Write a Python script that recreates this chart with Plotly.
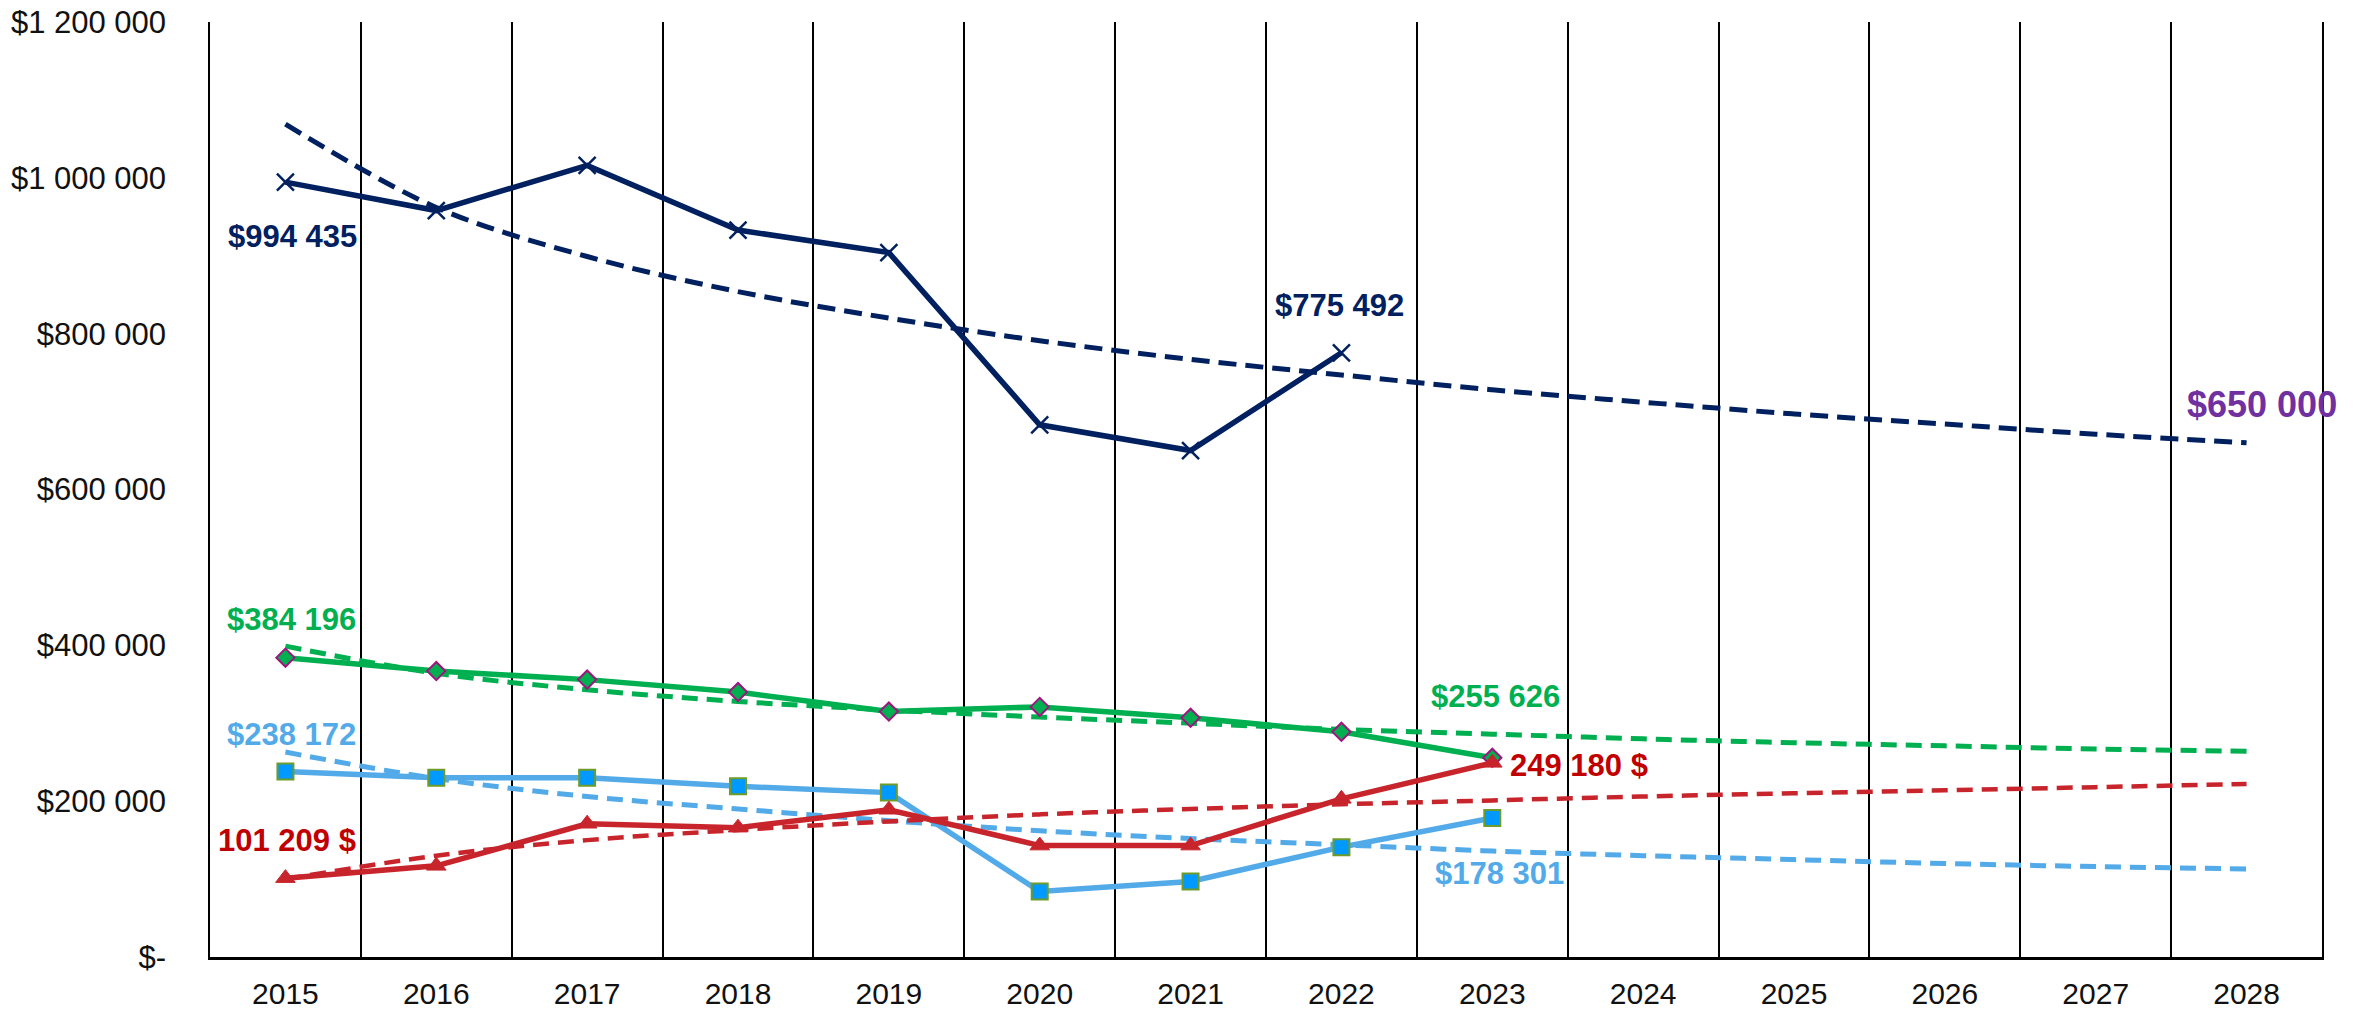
import plotly.graph_objects as go

# ---------------- data ----------------
years = ["2015", "2016", "2017", "2018", "2019", "2020", "2021",
         "2022", "2023", "2024", "2025", "2026", "2027", "2028"]

navy_actual = [994435, 958000, 1016000, 933000, 904000, 683000, 650000, 775492]
navy_trend = [1069000, 962000, 899000, 854000, 820000, 791000, 767000,
              747000, 728000, 712000, 697000, 684000, 671000, 660000]

green_actual = [384196, 367000, 356000, 340000, 315000, 321000, 307000, 289000, 255626]
green_trend = [399000, 364000, 343000, 328000, 317000, 308000, 300000,
               292000, 286000, 280000, 275000, 271000, 267000, 264000]

blue_actual = [238172, 230000, 230000, 219000, 211000, 84000, 97000, 141000, 178301]
blue_trend = [263000, 229000, 206000, 190000, 175000, 162000, 152000,
              144000, 136000, 130000, 125000, 120000, 116000, 113000]

red_actual = [101209, 117000, 171000, 166000, 189000, 143000, 143000, 203000, 249180]
red_trend = [100000, 130000, 150000, 163000, 174000, 183000, 190000,
             196000, 201000, 206000, 210000, 214000, 218000, 222000]

y_tickvals = [0, 200000, 400000, 600000, 800000, 1000000, 1200000]
y_ticktext = ["$-", "$200 000", "$400 000", "$600 000", "$800 000",
              "$1 000 000", "$1 200 000"]

target_label = "$650 000"

# ---------------- styles ----------------
NAVY = "#002060"
GREEN = "#00B050"
BLUE = "#52AAE8"
RED = "#C8242B"
RED_TXT = "#C00000"
PURPLE = "#7030A0"
FONT = "Liberation Sans, Arial, sans-serif"

fig = go.Figure()

# trend lines
for vals, col, w, dash in [(navy_trend, NAVY, 5, "18px,9px"), (green_trend, GREEN, 5, "16px,9px"),
                           (blue_trend, BLUE, 5, "16px,9px"), (red_trend, RED, 4.5, "16px,9px")]:
    fig.add_trace(go.Scatter(x=years, y=vals, mode="lines",
                             line=dict(color=col, width=w, dash=dash, shape="spline"),
                             hoverinfo="skip"))

# actual series
fig.add_trace(go.Scatter(x=years[:len(green_actual)], y=green_actual, mode="lines+markers",
                         line=dict(color=GREEN, width=5.5),
                         marker=dict(symbol="diamond", size=14, color=GREEN,
                                     line=dict(color="#A0147F", width=2))))
fig.add_trace(go.Scatter(x=years[:len(blue_actual)], y=blue_actual, mode="lines+markers",
                         line=dict(color=BLUE, width=5.5),
                         marker=dict(symbol="square", size=16, color="#0099FF",
                                     line=dict(color="#6E9B2A", width=2))))
fig.add_trace(go.Scatter(x=years[:len(red_actual)], y=red_actual, mode="lines+markers",
                         line=dict(color=RED, width=5.5),
                         marker=dict(symbol="triangle-up", size=17, color=RED,
                                     line=dict(color=RED, width=1))))
fig.add_trace(go.Scatter(x=years[:len(navy_actual)], y=navy_actual, mode="lines+markers",
                         line=dict(color=NAVY, width=5.5),
                         marker=dict(symbol="x-thin", size=17, color=NAVY,
                                     line=dict(color=NAVY, width=2.5))))


def money(v, suffix=False):
    s = f"{int(round(v)):,}".replace(",", " ")
    return f"{s} $" if suffix else f"${s}"


last = lambda arr: len(arr) - 1

labels = [
    (0, navy_actual[0], money(navy_actual[0]), NAVY, 7, -54, "center"),
    (last(navy_actual), navy_actual[-1], money(navy_actual[-1]), NAVY, -2, 47, "center"),
    (0, green_actual[0], money(green_actual[0]), GREEN, 6, 38, "center"),
    (last(green_actual), green_actual[-1], money(green_actual[-1]), GREEN, 3, 61, "center"),
    (0, blue_actual[0], money(blue_actual[0]), BLUE, 6, 37, "center"),
    (last(blue_actual), blue_actual[-1], money(blue_actual[-1]), BLUE, 7, -55, "center"),
    (0, red_actual[0], money(red_actual[0], True), RED_TXT, 2, 38, "center"),
    (last(red_actual), red_actual[-1], money(red_actual[-1], True), RED_TXT, 16, -3, "left"),
]
for xi, y, t, c, xs, ys, xa in labels:
    fig.add_annotation(x=xi, y=y, xref="x", yref="y", text="<b>" + t + "</b>",
                       showarrow=False, xshift=xs, yshift=ys,
                       xanchor=xa, yanchor="middle",
                       font=dict(family=FONT, size=31, color=c))

fig.add_annotation(x=last(navy_trend), y=navy_trend[-1], xref="x", yref="y",
                   text="<b>" + target_label + "</b>", showarrow=False,
                   xshift=15, yshift=38, xanchor="center", yanchor="middle",
                   font=dict(family=FONT, size=36, color=PURPLE))

fig.update_layout(
    width=2369, height=1013,
    margin=dict(l=210, r=47, t=22, b=56),
    paper_bgcolor="white", plot_bgcolor="white",
    showlegend=False,
    font=dict(family=FONT, color="#111111"),
    xaxis=dict(type="category", categoryorder="array", categoryarray=years,
               range=[-0.5, len(years) - 0.5], tickson="boundaries",
               showgrid=True, gridcolor="#000000", gridwidth=1.5,
               showline=True, linecolor="#000000", linewidth=2.5,
               ticks="", tickfont=dict(size=30, color="#111111"),
               ticklabelstandoff=8, zeroline=False, automargin=False),
    yaxis=dict(range=[0, 1200000], tickvals=y_tickvals, ticktext=y_ticktext,
               showgrid=False, zeroline=False, showline=True, mirror=True,
               linecolor="#000000", linewidth=1.5, ticks="",
               tickfont=dict(size=31, color="#111111"), ticklabelstandoff=36,
               automargin=False),
)

fig.write_html("out.html", config={"displayModeBar": False},
               post_script="document.body.style.margin='0';document.body.style.overflow='hidden';")
